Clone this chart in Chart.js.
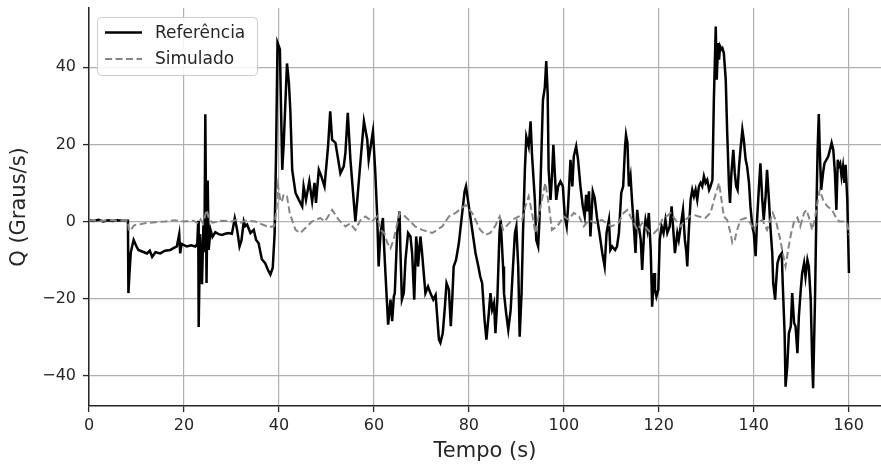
<!DOCTYPE html>
<html>
<head>
<meta charset="utf-8">
<script src="https://cdn.jsdelivr.net/npm/chart.js@4.4.0/dist/chart.umd.min.js"></script>
<style>
  html, body { margin: 0; padding: 0; background: #fff; }
  canvas { display: block; }
</style>
</head>
<body>
<canvas id="cvs_grafico" width="881" height="468"></canvas>
<script>
// Série de referência (preta) - tempo em s, Q em graus/s
const refT = [0, 1, 2, 3, 4, 5, 6, 7, 8.2, 8.3, 8.5, 8.8, 9.4, 10.0, 10.4, 11.2, 12.2, 12.8, 13.3, 14.0,
  15.0, 16.0, 17.1, 18.0, 18.5, 19.0, 19.2, 19.5, 20.6, 21.5, 22.4, 22.8, 23.0, 23.1, 23.4, 23.8, 24.1, 24.3, 24.5, 24.75,
  25.0, 25.2, 25.6, 26.0, 26.6, 27.3, 28.0, 28.7, 29.4, 30.1, 30.7, 31.2, 31.7, 32.1, 32.6, 32.9, 33.3, 34.0, 34.7, 35.2,
  35.7, 36.4, 37.1, 37.7, 38.2, 38.7, 39.1, 39.4, 39.7, 40.2, 40.7, 41.0, 41.7, 42.1, 42.4, 42.8, 43.5, 44.2, 44.9, 45.2,
  45.7, 46.4, 47.0, 47.5, 47.8, 48.4, 48.9, 49.6, 50.35, 50.8, 51.2, 51.9, 52.25, 52.95, 53.65, 54.0, 54.5, 55.06, 55.4, 56.1,
  56.5, 57.2, 57.9, 58.6, 58.9, 59.8, 60.3, 60.7, 61.0, 61.4, 61.9, 62.15, 62.43, 63.0, 63.5, 63.85, 64.2, 64.4, 64.9, 65.4,
  65.6, 65.9, 66.3, 66.65, 67.2, 67.7, 68.05, 68.5, 68.9, 69.1, 69.3, 69.8, 70.15, 70.5, 70.85, 71.4, 71.9, 72.5, 73.0, 73.7,
  74.0, 74.5, 74.9, 75.3, 75.8, 76.2, 76.5, 76.8, 77.3, 77.9, 78.2, 78.6, 79.1, 79.4, 79.8, 80.3, 80.8, 81.4, 82.0, 82.4,
  82.8, 83.3, 83.7, 84.2, 84.55, 84.9, 85.3, 85.6, 86.0, 86.45, 86.7, 87.2, 87.4, 87.85, 88.3, 88.8, 89.3, 89.7, 90.0, 90.4,
  90.7, 91.1, 91.4, 91.8, 92.1, 92.6, 93.0, 93.3, 93.9, 94.2, 94.6, 94.9, 95.3, 95.6, 96.0, 96.3, 96.6, 96.8, 97.2, 97.5,
  97.8, 98.1, 98.4, 98.8, 99.3, 99.8, 100.2, 100.6, 100.9, 101.4, 101.8, 102.1, 102.6, 103.0, 103.5, 104.0, 104.4, 104.7, 104.9, 105.3,
  105.6, 106.1, 106.5, 107.0, 107.5, 108.1, 108.6, 109.0, 109.5, 109.8, 110.2, 110.8, 111.2, 111.6, 112.1, 112.5, 112.9, 113.1, 113.4, 113.7,
  114.05, 114.4, 114.75, 115.1, 115.45, 115.8, 116.2, 116.5, 116.9, 117.2, 117.6, 117.9, 118.3, 118.6, 119.0, 119.2, 119.5, 119.9, 120.2, 120.6,
  121.0, 121.4, 121.8, 122.3, 122.7, 123.0, 123.4, 123.9, 124.2, 124.6, 125.1, 125.5, 125.8, 126.0, 126.3, 126.7, 127.05, 127.4, 127.75, 128.1,
  128.45, 128.8, 129.15, 129.5, 129.85, 130.2, 130.6, 130.9, 131.3, 131.6, 132.0, 132.2, 132.5, 132.7, 132.9, 133.2, 133.4, 133.7, 134.1, 134.4,
  134.8, 135.0, 135.3, 135.7, 136.0, 136.3, 136.6, 136.9, 137.2, 137.6, 137.9, 138.3, 138.6, 139.0, 139.3, 139.7, 140.0, 140.4, 140.7, 141.1,
  141.4, 141.8, 142.1, 142.5, 142.8, 143.2, 143.5, 143.9, 144.1, 144.5, 144.7, 145.0, 145.4, 145.9, 146.1, 146.5, 146.7, 147.05, 147.4, 147.8,
  148.1, 148.5, 148.8, 149.2, 149.5, 149.9, 150.2, 150.6, 150.9, 151.3, 151.6, 152.0, 152.3, 152.5, 152.9, 153.2, 153.45, 153.7, 153.9, 154.2,
  154.6, 154.9, 155.3, 155.7, 156.05, 156.4, 156.75, 157.1, 157.4, 157.7, 157.9, 158.2, 158.5, 158.8, 159.1, 159.35, 159.7, 160.05];
const refQ = [0.3, 0.1, 0.4, 0.0, 0.3, 0.1, 0.3, 0.2, 0.2, -18.6, -14, -8, -4.8, -6.5, -7.4, -7.8, -8.3, -7.6, -9.2, -8.0,
  -8.3, -7.6, -7.4, -6.8, -6.5, -3.3, -8.3, -5.8, -6.5, -6.2, -6.5, -5.8, 0.2, -27.4, -3.3, -16.3, -1, -8, 27.8, -16.0,
  10.6, -7.4, -2.2, -4, -2.8, -3.3, -3.5, -3.2, -3.0, -3.2, 0.8, -2.2, -6.5, -5, 0, -1.2, -0.8, -3, -2.2, -4.8,
  -5.6, -9.8, -10.8, -12.6, -13.8, -12.0, -3, 18, 46.4, 44.7, 13.4, 20, 41.0, 36, 28.8, 13.3, 7.4, 5.6, 3.9, 9.1,
  5.6, 10.4, 5.2, 10.0, 4.8, 13.4, 11.8, 9.1, 19.5, 28.6, 21.2, 20.4, 17.8, 12.5, 14.3, 17.8, 28.2, 16.0, 10.8, 0,
  5.6, 16.0, 26.0, 21.2, 16.0, 23.4, 12.6, 1.3, -11.7, -3.0, 0.9, -6.5, -13.4, -26.8, -20.3, -25.9, -19.5, -18.6, -3.0, 2.6,
  -8.2, -20.3, -18.6, -10, -3.0, -3.9, -8.2, -20.3, -3.9, -6.5, -11.7, -3.9, -8.2, -13.4, -18.6, -16.9, -18.6, -20.3, -19.1, -30.7,
  -31.5, -29, -23, -16, -17.7, -27.2, -20.3, -11.7, -10, -5.6, -2.2, 2.2, 7.8, 9.1, 5.6, 1.3, -3.0, -8.2, -11.7, -14.3,
  -16.0, -25.5, -30.7, -23.8, -18.6, -22.9, -21.2, -29.0, -20.3, -3.0, 0.4, -11.7, -18.6, -23.8, -28.1, -23.0, -11.7, -3.0, -1.3, -11.7,
  -29.9, -18.6, -3.0, 13.4, 22.0, 19.5, 26.0, 17.3, 5.6, -4.8, -6.5, 1.3, 18.6, 31.5, 34.8, 41.6, 33.1, 13.4, 5.6, 11.7,
  19.9, 12.6, 5.6, 9.1, 10.4, 9.1, 1.3, -1.3, 3.9, 16.0, 9.1, 16.9, 19.5, 16.0, 9.1, 3.9, 1.3, 6.9, 2.6, 7.8,
  -3.9, 7.8, 6.1, 0.9, -3.0, -8.2, -11.7, -3.0, 0.4, -7.4, -6.5, -7.4, -6.5, -3.0, 7.4, 9.1, 19.5, 22.5, 20.4, 9.1,
  11.7, 4.8, -1.3, -8.2, 3.0, -1.3, -4.8, -12.6, -3.0, 0.4, -2.2, 2.2, -7.4, -22.1, -13.4, -17.7, -19.5, -17.7, -4.8, -1.3,
  -3.0, 0.4, -3.0, -1.3, 3.9, -1.3, -8.2, -3.0, -4.8, -1.3, 3.0, -4.8, -7.9, -11.7, -3.0, 5.6, 8.2, 6.5, 8.2, 5.6,
  9.1, 10.0, 9.1, 11.7, 10.0, 10.8, 8.2, 9.1, 10.8, 31.6, 50.6, 36.8, 46.3, 42, 45.5, 44.7, 45.0, 43.7, 36.8, 23.4,
  8.7, 4.8, 12.6, 18.6, 12.6, 9.1, 8.2, 14.3, 18.6, 23.8, 21.2, 16.0, 14.3, 10.0, 3.9, -1.3, -3.0, -9.0, 0.4, 9.1,
  15.1, 5.6, 0.4, 6.5, 13.4, 5.6, -1.3, -8.2, -16.0, -20.3, -16.0, -10.8, -9.1, -8.2, -16.0, -29.0, -42.9, -37.7, -29.0, -27.2,
  -18.6, -26.4, -27.2, -34.2, -24.7, -17.7, -13.4, -10.8, -14.3, -10.0, -11.7, -20.3, -35.9, -43.3, -20.3, 3.0, 18.6, 27.9, 18.6, 8.2,
  12.6, 15.1, 16.0, 16.9, 18.6, 20.4, 18.6, 12.6, 3.0, 16.0, 14.3, 15.1, 11.7, 14.3, 10.0, 14.7, 5.6, -13.4];

// Série simulada (cinza tracejada)
const simT = [0, 2, 4, 6, 8.2, 8.4, 8.8, 9.5, 10.5, 12, 14, 16, 18, 20, 22, 23, 23.5, 24, 24.8, 25.3,
  26, 28, 30, 31, 32, 33, 35, 36.5, 38, 39, 39.5, 39.8, 40.3, 40.6, 41.0, 41.7, 42.3, 43.5, 44.5, 45.9,
  47, 48.7, 49.7, 51.2, 52.6, 54, 55, 56.1, 57.2, 58.2, 59.6, 60.7, 61.4, 62.2, 62.8, 63.5, 64.2, 65.4, 66.6, 68.7,
  70.2, 72.3, 74.4, 75.8, 77.2, 79.3, 80.7, 82.4, 83.5, 84.5, 85.5, 86.5, 87.2, 89.1, 90.5, 91.2, 91.9, 92.6, 93.3, 94.0,
  95.1, 96.1, 96.7, 97.5, 98.6, 100, 101, 102.1, 103.2, 104.2, 105.3, 106.6, 108, 110, 111.5, 112.6, 113.4, 114.4, 115.5, 116.5,
  118, 119, 119.7, 120.7, 122.5, 123.5, 124.6, 125.6, 126.5, 127.4, 128.4, 129.8, 130.9, 131.6, 132.7, 133.2, 133.7, 134.4, 135.1, 135.5,
  136.0, 136.5, 137.2, 138.3, 139.3, 140, 140.7, 141.8, 142.8, 144.0, 144.7, 145.6, 146.1, 146.7, 147.3, 147.8, 148.5, 149.2, 149.8, 150.6,
  151.1, 151.8, 152.3, 152.9, 153.5, 153.9, 154.6, 155.5, 156.5, 157.2, 158.0, 158.9, 159.7, 160.05];
const simQ = [0.3, 0.1, 0.3, 0.2, 0.2, -2.5, -2.2, -1.0, -0.8, -0.4, -0.2, 0.0, 0.3, 0.0, 0.2, -0.5, 0.5, -0.5, 3.0, 0.5,
  -0.3, 0.2, 0.0, 0.4, -0.3, 0.2, 0.0, -0.8, -1.5, -1.2, 3, 9.3, 5.5, 5.0, 7.0, 6.5, 2.0, -2.2, -3.0, -1.3,
  0, 0.9, 0, 3.0, 0.4, -1.3, -0.5, -2.2, 0.4, 1.3, 0, 1.3, -2.2, -3.0, -5.5, -7.0, -4.5, 2.2, 1.3, -1.3,
  -2.2, -3.0, -1.3, 1.3, 2.2, 4.3, 2.2, -2.2, -3.5, -3.0, -1.3, 1.3, -2.2, 0.4, 1.3, 0.4, 3.9, 6.5, 2.2, -3.0,
  3.9, 10.0, 5.6, -2.2, -1.3, 1.3, 0.4, 2.2, 1.3, -1.3, 0.4, -0.4, 0.4, -1.3, -0.4, 2.2, 3.0, 0.4, -2.2, -0.4,
  -2.6, -3.0, -2.2, 0.4, 2.2, 0.4, -1.3, 0.4, 1.3, 1.7, 1.3, 0.9, 2.2, 5.5, 10.0, 5.6, 1.3, 0.4, -3.0, -5.6,
  -4.8, -2.2, 0.4, 0.9, -0.4, -2.2, -0.4, 0.4, -2.2, 2.2, 0, -4.8, -8.2, -11.7, -7.0, -3.5, 0, 1.0, -1.3, 2.2,
  3.0, 0.4, -2.2, 0.9, 5.6, 8.2, 5.6, 3.9, 3.0, 1.3, 0, 0, -0.5, -3.5];

// Eixos
const xTicks = [0, 20, 40, 60, 80, 100, 120, 140, 160];
const yTicks = [-40, -20, 0, 20, 40];

const fonte = "'DejaVu Sans', sans-serif";
const corTexto = "#262626";

function formatarTick(v) {
    return v < 0 ? "\u2212" + Math.abs(v) : String(v);
}

// Legenda no estilo do matplotlib, desenhada dentro da área do gráfico
const legendaPlugin = {
    id: "legendaInterna",
    afterDraw(chart) {
        const ctx = chart.ctx;
        ctx.save();
        ctx.fillStyle = "rgba(255,255,255,0.85)";
        ctx.strokeStyle = "#cccccc";
        ctx.lineWidth = 1;
        ctx.beginPath();
        ctx.roundRect(97.5, 17.5, 160, 58, 4);
        ctx.fill();
        ctx.stroke();

        const linhas = [32.5, 59];
        chart.data.datasets.forEach((ds, i) => {
            ctx.beginPath();
            ctx.strokeStyle = ds.borderColor;
            ctx.lineWidth = ds.borderWidth;
            ctx.setLineDash(ds.borderDash || []);
            ctx.moveTo(105, linhas[i]);
            ctx.lineTo(142, linhas[i]);
            ctx.stroke();
            ctx.setLineDash([]);
            ctx.fillStyle = corTexto;
            ctx.font = "17px " + fonte;
            ctx.textBaseline = "middle";
            ctx.textAlign = "left";
            ctx.fillText(ds.label, 155, linhas[i] + 1);
        });
        ctx.restore();
    }
};

new Chart(document.getElementById("cvs_grafico"), {
    type: "line",
    data: {
        datasets: [
            {
                label: "Referência",
                data: refT.map((t, i) => ({ x: t, y: refQ[i] })),
                borderColor: "#000000",
                borderWidth: 2.5,
                pointRadius: 0,
                tension: 0,
                fill: false,
                order: 2
            },
            {
                label: "Simulado",
                data: simT.map((t, i) => ({ x: t, y: simQ[i] })),
                borderColor: "#858585",
                borderWidth: 2,
                borderDash: [7, 3.5],
                pointRadius: 0,
                tension: 0,
                fill: false,
                order: 1
            }
        ]
    },
    options: {
        responsive: false,
        animation: false,
        layout: { padding: { left: 0, right: 0, top: 8, bottom: 0 } },
        plugins: {
            legend: { display: false },
            tooltip: { enabled: false }
        },
        scales: {
            x: {
                type: "linear",
                min: 0,
                max: 166.8,
                afterFit(s) { s.height = 62; s.paddingLeft = 0; s.paddingRight = 0; },
                afterBuildTicks(s) { s.ticks = xTicks.map(v => ({ value: v })); },
                grid: { color: "#b0b0b0", lineWidth: 1.2, tickColor: corTexto, tickLength: 6, tickWidth: 1.3 },
                border: { color: corTexto, width: 1.5 },
                ticks: {
                    color: corTexto, font: { family: fonte, size: 16 }, padding: 4,
                    maxRotation: 0, autoSkip: false, callback: formatarTick
                },
                title: {
                    display: true, text: "Tempo (s)", color: corTexto,
                    font: { family: fonte, size: 21 }, padding: { top: 0, bottom: 4 }
                }
            },
            y: {
                min: -47.9,
                max: 55.4,
                afterFit(s) { s.width = 89; s.paddingTop = 0; s.paddingBottom = 0; },
                afterBuildTicks(s) { s.ticks = yTicks.map(v => ({ value: v })); },
                grid: { color: "#b0b0b0", lineWidth: 1.2, tickColor: corTexto, tickLength: 6, tickWidth: 1.3 },
                border: { color: corTexto, width: 1.5 },
                ticks: {
                    color: corTexto, font: { family: fonte, size: 16 }, padding: 7,
                    autoSkip: false, callback: formatarTick
                },
                title: {
                    display: true, text: "Q (Graus/s)", color: corTexto,
                    font: { family: fonte, size: 21 }, padding: { top: 7, bottom: 0 }
                }
            }
        }
    },
    plugins: [legendaPlugin]
});
</script>
</body>
</html>
